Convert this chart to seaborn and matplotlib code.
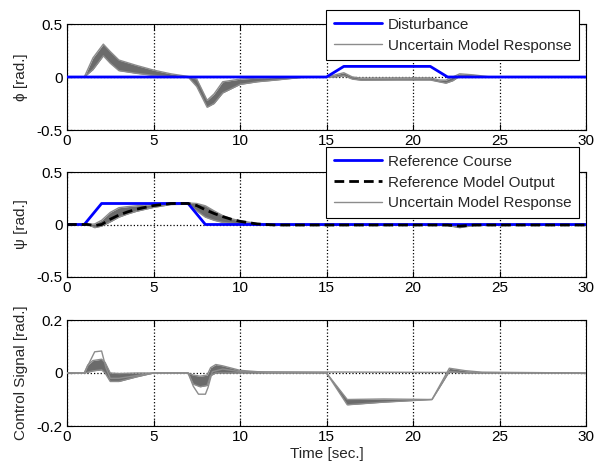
import matplotlib
matplotlib.use("Agg")
import matplotlib.pyplot as plt
import seaborn as sns
import numpy as np

# ---------------- data ----------------
time_ticks = [0, 5, 10, 15, 20, 25, 30]

# top panel: roll angle phi
t_dist = [0, 15, 16, 21, 22, 30]
disturbance = [0, 0, 0.1, 0.1, 0, 0]

t_phi = [0, 1.0, 1.5, 2.1, 2.5, 3.0, 4.0, 5.0, 6.0, 7.0, 7.5, 8.1, 8.5, 9.0, 10.0, 11.0, 12.0, 13.5,
         15.0, 15.5, 16.0, 16.5, 17.0, 19.0, 21.0, 21.5, 21.9, 22.3, 22.7, 23.5, 24.5, 30]
phi_hi = [0, 0, 0.18, 0.31, 0.24, 0.16, 0.11, 0.065, 0.03, 0.005, -0.02, -0.22, -0.16, -0.045, -0.02, -0.01, -0.005, 0,
          0, 0.02, 0.04, 0.0, -0.01, -0.008, -0.008, -0.028, -0.03, 0.0, 0.03, 0.02, 0.0, 0]
phi_lo = [0, 0, 0.07, 0.20, 0.13, 0.06, 0.035, 0.015, 0.003, 0, -0.09, -0.285, -0.25, -0.15, -0.07, -0.045, -0.03, -0.005,
          0, 0.0, 0.012, -0.02, -0.03, -0.028, -0.028, -0.045, -0.058, -0.035, 0.008, 0.005, 0.0, 0]

# middle panel: heading psi
t_ref = [0, 1, 2, 7, 8, 30]
ref_course = [0, 0, 0.2, 0.2, 0, 0]

t_psi = [0, 1.2, 1.6, 2.0, 2.5, 3.0, 3.5, 4.0, 5.0, 6.0, 7.0, 7.5, 8.0, 8.5, 9.0, 9.5, 10.0, 11.0, 12.0,
         15.0, 20.0, 22.0, 22.7, 23.5, 25.0, 30]
psi_model = [0, 0, -0.01, 0.0, 0.05, 0.09, 0.12, 0.145, 0.18, 0.2, 0.2, 0.18, 0.14, 0.105, 0.075, 0.05, 0.03, 0.005, -0.005,
             -0.005, -0.005, -0.005, -0.015, -0.005, -0.005, -0.005]
psi_hi = [0, 0, 0.005, 0.04, 0.115, 0.16, 0.17, 0.178, 0.192, 0.205, 0.205, 0.2, 0.178, 0.13, 0.085, 0.055, 0.035, 0.01, 0.003,
          0, 0, 0.0, -0.005, 0, 0, 0]
psi_lo = [0, 0, -0.03, -0.015, 0.025, 0.07, 0.1, 0.125, 0.163, 0.19, 0.193, 0.13, 0.07, 0.04, 0.02, 0.012, 0.005, 0.0, -0.005,
          -0.005, -0.005, -0.01, -0.03, -0.01, -0.005, -0.005]

# bottom panel: control signal
t_u = [0, 1.0, 1.2, 1.5, 2.0, 2.2, 2.5, 3.0, 4.0, 5.0, 7.0, 7.3, 7.7, 8.1, 8.3, 8.6, 9.0, 10.0, 11.0, 11.5,
       15.0, 16.2, 18.3, 21.1, 22.1, 23.0, 24.0, 30]
u_hi = [0, 0, 0.03, 0.047, 0.052, 0.04, 0.0, -0.002, 0, 0, 0, -0.008, -0.012, -0.008, 0.02, 0.032, 0.027, 0.01, 0.005, 0,
        0, -0.1, -0.098, -0.1, 0.018, 0.009, 0.003, 0]
u_lo = [0, 0, 0.003, 0.008, 0.012, 0.0, -0.032, -0.032, -0.015, 0, 0, -0.042, -0.052, -0.047, -0.01, 0, 0, 0, 0, 0,
        0, -0.12, -0.11, -0.1, 0.006, 0.0, 0, 0]
t_u_edge = [0, 1.0, 1.3, 1.6, 2.0, 2.25, 2.5, 3.0, 4.0, 5.0, 7.0, 7.3, 7.6, 8.0, 8.15, 8.4, 9.0, 10.0, 30]
u_edge = [0, 0, 0.04, 0.08, 0.083, 0.02, -0.02, -0.02, -0.01, 0, 0, -0.05, -0.08, -0.08, -0.055, 0.005, 0.015, 0.005, 0]

# ---------------- style ----------------
sns.set_style("ticks")
plt.rcParams['font.family'] = ['Liberation Sans', 'DejaVu Sans']
plt.rcParams['axes.unicode_minus'] = False
FS = 11
plt.rcParams['font.size'] = FS

BAND = '#6b6b6b'
EDGE = '#8c8c8c'
BLUE = '#0000ff'

fig = plt.figure(figsize=(5.99, 4.70), dpi=100)
W = 599.0
H = 470.0
def add_axes(top, bottom):
    return fig.add_axes([67 / W, 1 - bottom / H, (586 - 67) / W, (bottom - top) / H])

ax1 = add_axes(24, 130)
ax2 = add_axes(172, 277)
ax3 = add_axes(320, 426)

def style(ax, yticks, ylim):
    ax.set_xlim(0, 30)
    ax.set_ylim(*ylim)
    ax.set_xticks(time_ticks)
    ax.set_yticks(yticks)
    ax.set_yticklabels([('%g' % v) for v in yticks])
    ax.tick_params(direction='in', top=True, right=True, length=4, width=0.8,
                   labelsize=FS, colors='black', pad=3)
    for s in ax.spines.values():
        s.set_color('black')
        s.set_linewidth(0.8)
    ax.grid(True, linestyle=':', color='black', linewidth=0.9)
    ax.set_axisbelow(True)
    ax.set_xlabel('')

def legend(ax, labels, top_px):
    h, l = ax.get_legend_handles_labels()
    order = [l.index(x) for x in labels]
    lg = ax.legend([h[i] for i in order], [l[i] for i in order], loc='upper right',
                   bbox_to_anchor=(579 / W, 1 - top_px / H), bbox_transform=fig.transFigure,
                   borderaxespad=0, fancybox=False, framealpha=1, edgecolor='black',
                   handlelength=3.2, handletextpad=0.35, labelspacing=0.45, fontsize=FS,
                   borderpad=0.5)
    lg.get_frame().set_linewidth(0.8)
    lg.set_zorder(10)

# ---- top ----
ax1.fill_between(t_phi, phi_lo, phi_hi, color=BAND, lw=0, zorder=2)
sns.lineplot(x=t_phi, y=phi_hi, ax=ax1, color=EDGE, lw=1, estimator=None, zorder=3,
             label='Uncertain Model Response')
sns.lineplot(x=t_phi, y=phi_lo, ax=ax1, color=EDGE, lw=1, estimator=None, zorder=3, label='_nolegend_')
sns.lineplot(x=t_dist, y=disturbance, ax=ax1, color=BLUE, lw=2, estimator=None, zorder=4,
             label='Disturbance')
style(ax1, [-0.5, 0, 0.5], (-0.5, 0.5))
ax1.set_ylabel('ϕ [rad.]', labelpad=6)
legend(ax1, ['Disturbance', 'Uncertain Model Response'], 10)

# ---- middle ----
ax2.fill_between(t_psi, psi_lo, psi_hi, color=BAND, lw=0, zorder=2)
sns.lineplot(x=t_psi, y=psi_hi, ax=ax2, color=EDGE, lw=1, estimator=None, zorder=3,
             label='Uncertain Model Response')
sns.lineplot(x=t_psi, y=psi_lo, ax=ax2, color=EDGE, lw=1, estimator=None, zorder=3, label='_nolegend_')
sns.lineplot(x=t_ref, y=ref_course, ax=ax2, color=BLUE, lw=2, estimator=None, zorder=4,
             label='Reference Course')
sns.lineplot(x=t_psi, y=psi_model, ax=ax2, color='black', lw=2, estimator=None, zorder=5,
             label='Reference Model Output')
ax2.get_lines()[-1].set_dashes((3.5, 1.8))
style(ax2, [-0.5, 0, 0.5], (-0.5, 0.5))
ax2.set_ylabel('ψ [rad.]', labelpad=6)
legend(ax2, ['Reference Course', 'Reference Model Output', 'Uncertain Model Response'], 147)

# ---- bottom ----
ax3.fill_between(t_u, u_lo, u_hi, color=BAND, lw=0, zorder=2)
sns.lineplot(x=t_u, y=u_hi, ax=ax3, color=EDGE, lw=1, estimator=None, zorder=3, legend=False)
sns.lineplot(x=t_u, y=u_lo, ax=ax3, color=EDGE, lw=1, estimator=None, zorder=3, legend=False)
sns.lineplot(x=t_u_edge, y=u_edge, ax=ax3, color=EDGE, lw=1, estimator=None, zorder=3, legend=False)
style(ax3, [-0.2, 0, 0.2], (-0.2, 0.2))
ax3.set_ylabel('Control Signal [rad.]', labelpad=6)
ax3.set_xlabel('Time [sec.]', labelpad=2)

fig.savefig('out.png', dpi=100)
